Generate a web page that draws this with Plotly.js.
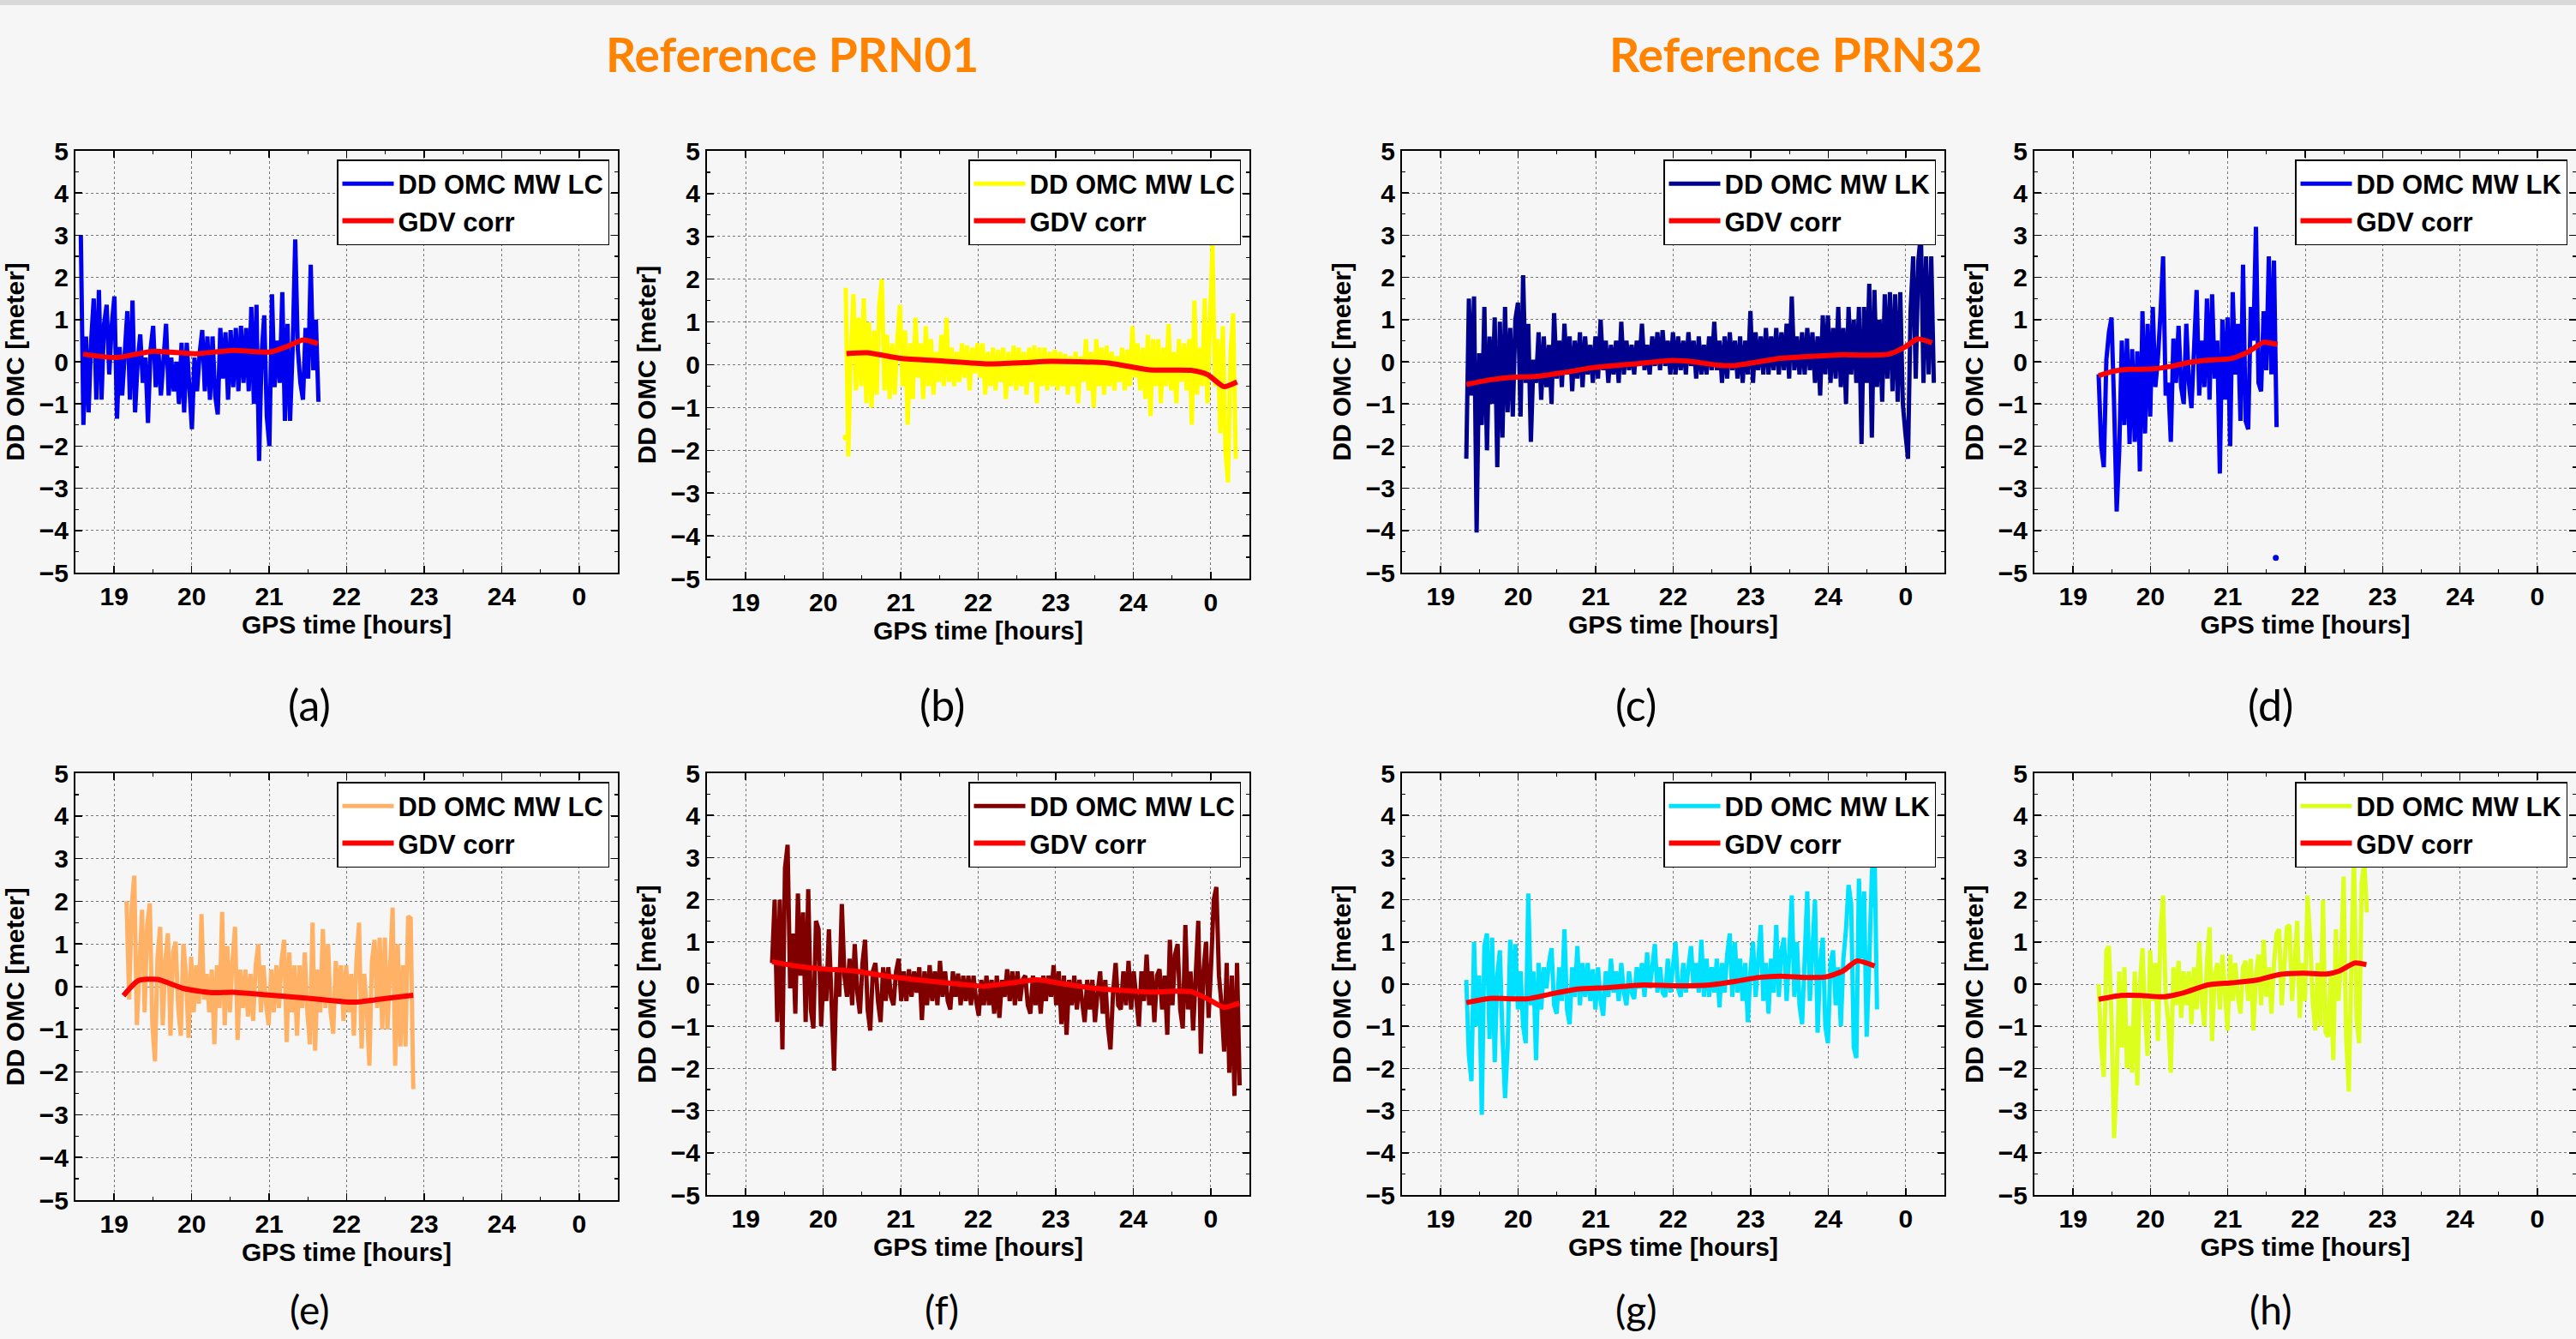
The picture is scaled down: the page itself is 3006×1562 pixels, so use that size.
<!DOCTYPE html>
<html>
<head>
<meta charset="utf-8">
<script src="https://cdn.plot.ly/plotly-3.0.1.min.js"></script>
<style>
html,body{margin:0;padding:0;background:#f6f6f6;}
#chart{width:3006px;height:1562px;}
</style>
</head>
<body>
<div id="chart"></div>
<script>
// ---------------- tick labels ----------------
const hourTickVals = [19, 20, 21, 22, 23, 24, 25];
const hourTickText = ['19', '20', '21', '22', '23', '24', '0'];
const omcTickVals = [-5, -4, -3, -2, -1, 0, 1, 2, 3, 4, 5];

// sampling interval of the DD OMC series (hours)
const sampleStep = 1 / 30;

// ---------------- panel (a) PRN01 MW LC ----------------
const aStart = 18.57;
const aOmc = [3.0, -1.5, 0.6, -1.2, 0.5, 1.5, -0.9, 1.7, -0.9, 0.9, 1.35, -0.3, 0.9, 1.55, -1.35, 0.35, -0.8, 0.3, 1.2, -0.9,
  1.45, -1.2, 0.0, 0.65, -0.5, 0.1, -1.45, 0.3, 0.85, -0.6, 0.3, -0.8, 0.1, 0.9, -0.8, 0.1, -0.7, 0.0, -1.0, 0.45,
  -1.2, 0.45, -0.6, -1.6, 0.1, -0.7, 0.2, 0.75, -0.7, 0.6, -0.9, 0.6, -0.8, -1.25, 0.8, -0.4, 0.7, -0.9, 0.75, -0.6,
  0.8, -0.7, 0.85, -0.5, 0.8, -0.7, 1.3, -1.0, 1.35, -2.35, 0.2, 1.1, -1.3, -2.0, 1.6, -0.6, 0.5, -0.5, 1.65, -1.4,
  0.9, -1.4, 0.3, 2.9, 0.3, -0.5, -0.9, 0.8, -0.4, 2.3, -0.2, 1.0, -0.95];
const aGdvT = [18.6, 19.03, 19.51, 20.05, 20.53, 21.01, 21.23, 21.44, 21.63];
const aGdvV = [0.18, 0.1, 0.25, 0.19, 0.27, 0.23, 0.36, 0.52, 0.43];

// ---------------- panel (b) PRN01 MW LC ----------------
const bStart = 20.29;
const bOmc = [1.8, -2.15, 0.3, 1.65, -0.6, 1.1, -0.5, 1.55, -0.9, 1.0, -1.0, 0.8, -0.7, 1.4, 2.0, -0.6, 0.7, -0.8, 0.5, -0.7, 0.6,
  1.4, -0.5, 0.8, -1.4, 0.5, -0.8, 1.1, -0.3, 0.5, -0.8, 0.9, -0.5, 0.6, -0.7, 0.3, -0.4, 0.7, -0.5, 1.1, -0.4, 0.4, -0.5, 0.3, -0.4, 0.5, -0.3, 0.45, -0.6, 0.4, -0.2,
  0.5, -0.3, 0.5, -0.7, 0.3, -0.5, 0.4, -0.6, 0.35, -0.4, 0.4, -0.8, 0.3, -0.5, 0.45, -0.6, 0.4, -0.5, 0.3, -0.7, 0.4, -0.4, 0.45, -0.9, 0.4, -0.5, 0.4, -0.6, 0.3, -0.5,
  0.35, -0.6, 0.3, -0.5, 0.25, -0.7, 0.2, -0.5, 0.3, -0.9, 0.2, -0.4, 0.6, -0.6, 0.3, -1.0, 0.6, -0.5, 0.4, -0.7, 0.45, -0.5, 0.3, -0.6, 0.2, -0.4, 0.4, -0.6, 0.35, -0.5,
  0.9, -0.3, 0.5, -0.6, 0.4, -0.8, 0.7, -1.2, 0.6, -0.5, 0.6, -0.9, 0.4, -0.5, 0.95, -0.6, 0.3, -0.9, 0.6, -0.4, 0.5, -0.6, 0.6, -1.4, 1.5, -0.7, 0.4, -0.5, 1.55, -0.9,
  1.0, 2.8, -0.5, 0.6, -1.6, 0.9, -2.0, -2.75, 0.3, 1.2, -2.2];
const bDotT = [20.29];
const bDotV = [-1.7];
const bGdvT = [20.3, 20.57, 21.0, 21.53, 22.12, 22.6, 22.93, 23.68, 24.21, 24.75, 24.96, 25.17, 25.34];
const bGdvV = [0.26, 0.28, 0.15, 0.09, 0.02, 0.05, 0.08, 0.04, -0.12, -0.13, -0.23, -0.51, -0.4];

// ---------------- panel (c) PRN32 MW LK ----------------
const cStart = 19.33;
const cOmc = [-2.3, 1.5, -0.8, 1.55, -4.05, 0.2, -1.5, 1.3, -2.1, 0.6, -1.0, 1.05, -2.5, 0.95, -1.8, 1.3, -1.2, 0.8, -1.3, 1.0,
  1.4, -1.3, 2.05, -0.5, 0.9, -1.9, 0.05, -0.5, 0.7, -0.9, 0.6, -0.6, 0.4, -1.0, 1.15, -0.4, 0.5, -0.6, 0.9, -0.3, 0.6, -0.7, 0.5, -0.4, 0.7, -0.6, 0.6, -0.3, 0.4, -0.5,
  0.6, -0.4, 1.0, -0.2, 0.5, -0.5, 0.4, -0.3, 0.5, -0.5, 0.95, -0.3, 0.5, -0.2, 0.4, -0.3, 0.5, -0.1, 0.9, -0.2, 0.4, -0.3, 0.6, -0.1, 0.7, -0.2, 0.75, -0.1, 0.5, -0.3,
  0.7, -0.3, 0.6, -0.2, 0.5, -0.3, 0.7, -0.1, 0.5, -0.4, 0.6, -0.3, 0.4, -0.3, 0.6, -0.2, 0.95, -0.2, 0.5, -0.5, 0.6, -0.4, 0.7, -0.2, 0.5, -0.4, 0.6, -0.5, 0.5, -0.3,
  1.2, -0.5, 0.7, -0.2, 0.6, -0.3, 0.8, -0.3, 0.6, -0.2, 0.8, -0.3, 0.7, -0.2, 0.9, -0.4, 1.55, -0.2, 0.6, -0.3, 0.7, -0.3, 0.8, -0.2, 0.7, -0.5, 0.6, -0.8, 1.1, -0.3,
  1.1, -0.5, 0.8, -0.4, 1.3, -0.6, 0.8, -1.0, 1.3, -0.3, 1.0, -0.5, 1.3, -1.95, 1.3, -0.5, 1.85, -1.8, 1.7, -0.6, 1.0, -0.95, 1.6, -0.4, 1.65, -0.7, 1.6, -0.95, 1.65, -1.0,
  -1.7, -2.3, 1.2, 2.5, -0.4, 2.4, 3.05, -0.5, 2.5, -0.3, 2.5, -0.5];
const cGdvT = [19.33, 19.63, 19.9, 20.22, 20.54, 20.97, 21.5, 21.99, 22.26, 22.58, 22.79, 23.11, 23.38, 23.81, 24.19, 24.45, 24.78, 24.99, 25.15, 25.34];
const cGdvV = [-0.54, -0.43, -0.37, -0.35, -0.27, -0.14, -0.05, 0.03, 0.0, -0.08, -0.09, 0.0, 0.08, 0.13, 0.17, 0.16, 0.18, 0.35, 0.54, 0.45];

// ---------------- panel (d) PRN32 MW LK ----------------
const dStart = 19.33;
const dOmc = [-0.3, -2.0, -2.5, 0.05, 0.7, 1.05, -1.0, -3.55, -2.1, 0.5, -1.5, 0.55, -1.95, 0.3, -1.9, 0.25, -2.6, 1.2, -1.7, 0.9,
  -1.3, 1.3, -0.6, 0.1, 1.15, 2.5, -0.8, -0.5, -1.9, 0.55, -0.5, 0.85, -0.6, -1.0, 0.9, -0.5, -1.1, 0.6, 1.7, -0.8,
  0.5, -0.6, 1.5, -0.9, 1.6, -0.4, 0.5, -2.65, 1.0, -0.9,
  1.05, -2.0, 1.65, -0.3, 0.9, -1.4, 2.3, -1.4, -1.6, 1.3, 0.5, 3.2, -0.5, -0.7, 1.2, -0.2, 2.5, -0.3, 2.4, -1.55];
const dDotT = [21.62];
const dDotV = [-4.65];
const dGdvT = [19.33, 19.51, 19.72, 20.03, 20.26, 20.49, 20.69, 21.05, 21.26, 21.46, 21.64];
const dGdvV = [-0.33, -0.23, -0.18, -0.17, -0.11, -0.02, 0.03, 0.08, 0.23, 0.46, 0.41];

// ---------------- panel (e) PRN01 MW LC ----------------
const eStart = 19.16;
const eOmc = [2.0, -0.3, 1.9, 2.6, -0.9, 0.5, 1.8, -0.6, 1.45, 1.95, -0.9, -1.75, 0.7, 1.4, -0.9, 0.6, 1.25, -1.15, 0.8, 1.05,
  -0.5, -1.15, 1.0, 0.3, -1.2, 0.7, -0.6, 0.5, -0.4, 1.7, -0.3, 0.3, -0.6, 0.4, -1.35, 0.5, -0.5, 1.75, -0.9, 0.95,
  -0.6, 0.6, 1.4, -1.25, 0.4, -0.5, 0.4, -0.7, 0.3, -0.8, 0.5, 1.0, -0.6, 0.5, -0.4, -0.9, 0.4, -0.6, 0.5, -0.5,
  0.6, 1.1, -1.3, 0.8, -0.6, 0.5, -1.15, 0.5, -0.5, 0.8, -0.6, -1.35, 1.5, -1.5, 0.4, -0.6, 1.35, -0.5, 1.0, -0.6,
  -1.1, 0.6, -0.3, 0.5, -0.8, 0.5, -0.6, 0.3, -1.15, 0.6, 1.5, -1.45, 0.3, -0.5, -1.85, 0.6, 1.1, -0.5, 1.15, -1.0,
  1.15, -1.0, 0.5, 1.85, -1.85, 1.0, -1.4, 0.5, -1.4, 1.65, 1.6, -2.4];
const eGdvT = [19.12, 19.31, 19.56, 19.89, 20.26, 20.53, 20.96, 21.5, 22.03, 22.19, 22.57, 22.86];
const eGdvV = [-0.21, 0.14, 0.17, -0.04, -0.14, -0.13, -0.19, -0.27, -0.36, -0.35, -0.26, -0.2];

// ---------------- panel (f) PRN01 MW LC ----------------
const fStart = 19.34;
const fOmc = [0.5, 2.0, -0.9, 2.0, -1.55, 2.75, 3.3, -0.1, 1.2, -0.7, 2.15, 0.2, 1.7, -0.9, 2.25, -0.6, -1.05, 1.5, 1.3, -1.0,
  0.3, -0.4, 1.3, -0.4, -2.05, 0.4, -0.3, 1.9, 0.2, -0.3, 0.6, -0.5, 0.95, -0.2, -0.7, 0.5, 1.05, -0.6, -1.1, 0.3,
  0.5, -0.4, -0.9, 0.4, -0.4, 0.4, -0.3, -0.5, 0.3, 0.6, -0.4, 0.3, -0.4, 0.35, -0.3, 0.3, -0.2, 0.4, -0.85, 0.3,
  -0.5, 0.45, -0.4, 0.3, -0.5, 0.55, -0.3, 0.3, -0.4, -0.6, 0.3, -0.3, 0.25, -0.5, 0.2, -0.4, 0.2, -0.5, 0.2, -0.4,
  -0.75, 0.1, -0.5, 0.2, -0.5, 0.1, -0.7, 0.2, -0.8, 0.1, -0.3, 0.35, -0.4, 0.3, -0.5, 0.3, -0.4, 0.1, 0.2, -0.5,
  -0.7, 0.2, -0.5, 0.1, -0.7, 0.2, -0.4, 0.2, -0.3, 0.45, -0.5, 0.3, -0.95, 0.2, -1.2, 0.1, -0.5, 0.2, -0.6, 0.1,
  -0.5, -0.9, 0.1, -0.6, 0.1, -0.9, -0.2, 0.3, -0.7, 0.1, -1.0, -1.55, -0.2, 0.5, -0.5, -0.6, 0.3, -0.5, 0.55, -0.6,
  0.3, -0.5, -1.0, 0.3, -0.4, 0.7, -0.5, 0.3, -0.9, 0.2, 0.35, -0.6, 0.2, -1.2, 1.05, -0.5, 0.7, 0.95, -0.6, -1.05,
  1.4, -0.6, 0.3, -1.1, 0.5, 1.5, -1.65, 0.3, 1.0, -0.8, 0.5, 2.0, 2.3, 0.2, -0.5, -1.6, 0.5, -2.1, 0.2, -2.65,
  0.5, -2.4];
const fGdvT = [19.34, 19.55, 19.92, 20.4, 20.78, 21.26, 21.75, 22.07, 22.39, 22.76, 23.09, 23.46, 23.95, 24.27, 24.54, 24.75, 24.96, 25.17, 25.37];
const fGdvV = [0.53, 0.46, 0.37, 0.31, 0.2, 0.09, 0.0, -0.05, 0.02, 0.1, 0.01, -0.09, -0.16, -0.19, -0.17, -0.18, -0.35, -0.55, -0.45];

// ---------------- panel (g) PRN32 MW LK ----------------
const gStart = 19.33;
const gOmc = [0.1, -1.7, -2.3, 1.0, -1.0, 0.2, -3.1, 0.9, 1.2, -1.3, 1.1, -1.85, 0.2, 0.8, -1.2, -2.7, -1.5, 1.05, -0.3, 0.95,
  -0.6, 0.3, -1.0, -1.4, 2.15, -0.5, 0.3, -1.8, 0.5, -0.6, 0.4, -0.1, 0.5, 0.85, -0.5, -0.7, 0.4, -0.4, 1.3, -0.6,
  -0.95, 0.4, -0.3, 0.9, -0.5, 0.5, -0.3, 0.5, -0.4, 0.35, -0.6, 0.4, -0.4, -0.75, 0.3, -0.3, 0.6, -0.2, 0.3, -0.4,
  0.5, -0.2, -0.5, 0.3, -0.2, -0.35, 0.4, -0.1, 0.5, -0.3, 0.75, -0.1, 0.4, 0.95, -0.2, 0.4, -0.2, -0.3, 0.6, -0.2,
  0.4, 1.0, -0.1, -0.3, 0.5, -0.2, 0.4, 0.9, -0.1, 0.5, -0.2, 1.05, -0.3, 0.6, -0.3, 0.4, -0.2, 0.6, -0.55, 0.5,
  -0.2, 0.7, 1.2, -0.3, 1.0, -0.2, 0.6, -0.4, 0.5, -0.9, 0.3, 1.0, -0.3, 0.6, 1.4, -0.4, 0.5, -0.7, 0.6, -0.2,
  1.4, -0.3, 0.8, 1.1, -0.4, 0.7, 2.1, -0.3, 1.0, -0.5, -0.95, 0.6, 2.2, -0.4, 0.7, 2.0, -1.15, 0.5, 1.1, -1.0,
  -1.4, 0.5, 0.8, -0.5, 0.4, -1.0, 0.6, 1.3, 2.35, 1.9, -1.5, -1.75, 2.5, 0.6, 2.2, -1.25, 0.5, 2.6, 3.4, -0.6];
const gDotT = [24.6];
const gDotV = [1.88];
const gGdvT = [19.33, 19.63, 20.11, 20.43, 20.75, 21.18, 21.61, 22.04, 22.47, 22.79, 23.11, 23.38, 23.7, 23.97, 24.19, 24.37, 24.6];
const gGdvV = [-0.44, -0.34, -0.35, -0.23, -0.12, -0.08, -0.02, -0.04, -0.02, 0.06, 0.16, 0.19, 0.16, 0.17, 0.31, 0.55, 0.43];

// ---------------- panel (h) PRN32 MW LK ----------------
const hStart = 19.33;
const hOmc = [0.0, -1.5, -2.2, 0.8, 0.9, -0.8, -3.65, -2.3, 0.3, -1.5, 0.4, -2.0, -1.0, -2.1, 0.3, -2.4, 0.0, 0.85, -0.7, -1.7,
  0.8, -0.4, 0.5, -1.35, 1.3, 2.1, -0.3, -0.9, -2.1, 0.4, -0.5, 0.55, -0.8, 0.3, -0.5, 0.3, -0.95, 0.4, -0.6, 1.0,
  -0.4, -1.0, 0.5, 1.35, -1.35, 0.2, 0.5, -0.6, 0.7, -0.3, -1.1, 0.7, -0.4, 0.5, -0.3, -0.7, 0.4, 0.55, -0.4, 0.6,
  -1.1, 0.2, 0.7, -0.5, 1.05, -0.3, 0.4, -0.7, 0.5, 1.2, 1.3, -0.5, 0.3, 1.35, 1.4, -0.4, 0.5, 1.5, -0.8, 0.5,
  -0.4, 2.1, 1.1, -0.4, -1.1, 0.5, -1.0, 2.0, -1.15, -1.25, 0.2, -1.8, 1.3, -0.4, 0.5, 2.55, -1.3, -2.55, 0.5, 3.1,
  -0.8, -1.4, 2.4, 2.95, 1.7];
const hGdvT = [19.33, 19.62, 19.87, 20.18, 20.44, 20.74, 21.05, 21.36, 21.67, 21.97, 22.28, 22.44, 22.64, 22.79];
const hGdvV = [-0.36, -0.27, -0.27, -0.3, -0.2, -0.02, 0.03, 0.09, 0.23, 0.26, 0.24, 0.31, 0.5, 0.46];

// ---------------- labels ----------------
const omcNames = ['DD OMC MW LC', 'DD OMC MW LC', 'DD OMC MW LK', 'DD OMC MW LK',
                  'DD OMC MW LC', 'DD OMC MW LC', 'DD OMC MW LK', 'DD OMC MW LK'];
const gdvName = 'GDV corr';
const panelTags = ['(a)', '(b)', '(c)', '(d)', '(e)', '(f)', '(g)', '(h)'];
const groupTitles = ['Reference PRN01', 'Reference PRN32'];
const xTitle = 'GPS time [hours]';
const yTitle = 'DD OMC [meter]';

// ---------------- styling / layout (pixels of the 3006x1562 page) ----------------
const W = 3006, H = 1562;
const omcColors = ['#0000f0', '#ffff00', '#00008f', '#0000f0', '#ffb266', '#800000', '#00e1ff', '#dcff1e'];
const gdvColor = '#ff0000';
// plot-area boxes [left, right, top, bottom] in px
const boxes = [
  [88, 721, 176, 668], [825, 1458, 176, 675], [1636, 2269, 176, 668], [2374, 3006, 176, 668],
  [88, 721, 902, 1400], [825, 1458, 902, 1394], [1636, 2269, 902, 1394], [2374, 3006, 902, 1394]
];
const tagPos = [[361, 822], [1099, 822], [1909, 822], [2649, 822], [361, 1527], [1099, 1527], [1909, 1527], [2649, 1527]];
const tagSize = [50, 50, 50, 50, 46, 46, 46, 46];
const titlePos = [[924, 63], [2095, 63]];

const panels = [
  [aStart, aOmc, aGdvT, aGdvV, null, null],
  [bStart, bOmc, bGdvT, bGdvV, bDotT, bDotV],
  [cStart, cOmc, cGdvT, cGdvV, null, null],
  [dStart, dOmc, dGdvT, dGdvV, dDotT, dDotV],
  [eStart, eOmc, eGdvT, eGdvV, null, null],
  [fStart, fOmc, fGdvT, fGdvV, null, null],
  [gStart, gOmc, gGdvT, gGdvV, gDotT, gDotV],
  [hStart, hOmc, hGdvT, hGdvV, null, null]
];

const fontFam = '"Liberation Sans", Arial, Helvetica, sans-serif';
const boldFont = (s) => ({family: fontFam, size: s, color: '#000', weight: 'bold'});

const data = [];
const layout = {
  width: W, height: H,
  margin: {l: 0, r: 0, t: 0, b: 0},
  paper_bgcolor: '#f6f6f6',
  plot_bgcolor: '#f6f6f6',
  showlegend: true,
  annotations: [],
  shapes: [{type: 'rect', xref: 'paper', yref: 'paper', x0: 0, x1: 1, y0: 1 - 6 / H, y1: 1,
            fillcolor: '#d9d9d9', line: {width: 0}, layer: 'below'}]
};

panels.forEach((p, i) => {
  const k = i + 1;
  const xa = 'x' + (k === 1 ? '' : k), ya = 'y' + (k === 1 ? '' : k);
  const lg = 'legend' + (k === 1 ? '' : k);
  const [start, omc, gT, gV, dotT, dotV] = p;
  const times = omc.map((_, j) => start + j * sampleStep);

  data.push({
    type: 'scatter', mode: 'lines', x: times, y: omc, name: omcNames[i],
    xaxis: xa, yaxis: ya, legend: lg,
    line: {color: omcColors[i], width: 5}, hoverinfo: 'skip'
  });
  if (dotT) {
    data.push({
      type: 'scatter', mode: 'markers', x: dotT, y: dotV, showlegend: false,
      xaxis: xa, yaxis: ya, marker: {color: omcColors[i], size: 7}, hoverinfo: 'skip'
    });
  }
  data.push({
    type: 'scatter', mode: 'lines', x: gT, y: gV, name: gdvName,
    xaxis: xa, yaxis: ya, legend: lg,
    line: {color: gdvColor, width: 6, shape: 'spline', smoothing: 0.6}, hoverinfo: 'skip'
  });

  const [l, r, t, b] = boxes[i];
  const common = {
    showline: true, linecolor: '#000', linewidth: 2, mirror: 'ticks',
    ticks: 'inside', ticklen: 8, tickwidth: 1.5, tickcolor: '#000',
    showgrid: true, gridcolor: '#777', gridwidth: 1, griddash: 'dot',
    zeroline: false, tickfont: boldFont(30), fixedrange: true
  };
  layout['xaxis' + (k === 1 ? '' : k)] = Object.assign({}, common, {
    domain: [l / W, r / W], anchor: ya,
    range: [18.5, 25.5], tickmode: 'array', tickvals: hourTickVals, ticktext: hourTickText,
    minor: {ticks: 'inside', ticklen: 4, tickwidth: 1.2, tickcolor: '#000', tickmode: 'linear', tick0: 18.5, dtick: 0.5, showgrid: false},
    title: {text: xTitle, font: boldFont(30), standoff: 1}
  });
  layout['yaxis' + (k === 1 ? '' : k)] = Object.assign({}, common, {
    domain: [1 - b / H, 1 - t / H], anchor: xa,
    range: [-5, 5], tickmode: 'array', tickvals: omcTickVals,
    minor: {ticks: 'inside', ticklen: 4, tickwidth: 1.2, tickcolor: '#000', tickmode: 'linear', tick0: -5, dtick: 0.5, showgrid: false},
    title: {text: yTitle, font: boldFont(30), standoff: 8}
  });
  layout[lg] = {
    x: (r - 10) / W, y: 1 - (t + 10) / H, xanchor: 'right', yanchor: 'top',
    xref: 'paper', yref: 'paper',
    bgcolor: '#ffffff', bordercolor: '#000', borderwidth: 1.5,
    font: boldFont(31), itemwidth: 60, tracegroupgap: 0
  };
  layout.annotations.push({
    xref: 'paper', yref: 'paper', x: tagPos[i][0] / W, y: 1 - tagPos[i][1] / H,
    xanchor: 'center', yanchor: 'middle', showarrow: false, text: panelTags[i],
    font: {family: 'Lato, "Open Sans", sans-serif', size: tagSize[i], color: '#000'}
  });
});

groupTitles.forEach((txt, j) => {
  layout.annotations.push({
    xref: 'paper', yref: 'paper', x: titlePos[j][0] / W, y: 1 - titlePos[j][1] / H,
    xanchor: 'center', yanchor: 'middle', showarrow: false, text: txt,
    font: {family: 'Lato, "Open Sans", sans-serif', size: 55, color: '#ff8200', weight: 'bold'}
  });
});

Plotly.newPlot('chart', data, layout, {staticPlot: true, displayModeBar: false});
</script>
</body>
</html>
